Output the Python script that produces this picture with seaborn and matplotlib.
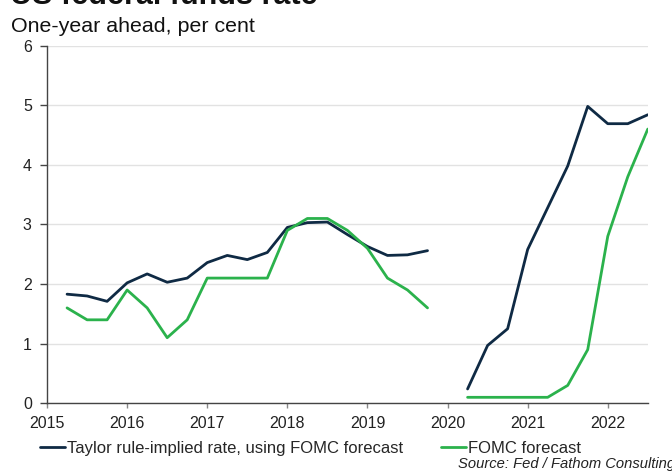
import numpy as np
import pandas as pd
import matplotlib
matplotlib.use("Agg")
import matplotlib.pyplot as plt
import seaborn as sns

# Quarterly observations, one-year-ahead rates (per cent)
dates_pre = [2015.25, 2015.5, 2015.75, 2016.0, 2016.25, 2016.5, 2016.75,
             2017.0, 2017.25, 2017.5, 2017.75, 2018.0, 2018.25, 2018.5,
             2018.75, 2019.0, 2019.25, 2019.5, 2019.75]
dates_post = [2020.25, 2020.5, 2020.75, 2021.0, 2021.25, 2021.5, 2021.75,
              2022.0, 2022.25, 2022.5]

taylor_pre = [1.83, 1.80, 1.71, 2.02, 2.17, 2.03, 2.10, 2.36, 2.48, 2.41,
              2.53, 2.95, 3.03, 3.04, 2.83, 2.63, 2.48, 2.49, 2.56]
taylor_post = [0.24, 0.97, 1.25, 2.58, 3.28, 3.98, 4.98, 4.69, 4.69, 4.84]

fomc_pre = [1.6, 1.4, 1.4, 1.9, 1.6, 1.1, 1.4, 2.1, 2.1, 2.1, 2.1, 2.9,
            3.1, 3.1, 2.9, 2.6, 2.1, 1.9, 1.6]
fomc_post = [0.1, 0.1, 0.1, 0.1, 0.1, 0.3, 0.9, 2.8, 3.8, 4.6]

series_names = ["Taylor rule-implied rate, using FOMC forecast", "FOMC forecast"]
year_ticks = [2015, 2016, 2017, 2018, 2019, 2020, 2021, 2022]
y_ticks = [0, 1, 2, 3, 4, 5, 6]

frames = []
for name, pre, post in [(series_names[0], taylor_pre, taylor_post),
                        (series_names[1], fomc_pre, fomc_post)]:
    frames.append(pd.DataFrame({"date": dates_pre, "rate": pre,
                                "series": name, "period": "pre"}))
    frames.append(pd.DataFrame({"date": dates_post, "rate": post,
                                "series": name, "period": "post"}))
df = pd.concat(frames, ignore_index=True)

sns.set_theme(style="white")
plt.rcParams["font.family"] = ["Liberation Sans", "DejaVu Sans"]

fig = plt.figure(figsize=(6.72, 4.75), dpi=100)
ax = fig.add_axes([0.070, 0.151, 0.894, 0.753])

palette = {series_names[0]: "#0f2a44", series_names[1]: "#2bb24c"}
sns.lineplot(data=df, x="date", y="rate", hue="series", units="period",
             estimator=None, palette=palette, linewidth=2.0, ax=ax,
             hue_order=series_names)

ax.set_xlim(2015, 2022.5)
ax.set_ylim(0, 6)
ax.set_xticks(year_ticks)
ax.set_xticklabels([str(y) for y in year_ticks])
ax.set_yticks(y_ticks)
ax.set_xlabel("")
ax.set_ylabel("")

ax.yaxis.grid(True, color="#e2e2e2", linewidth=1.0)
ax.set_axisbelow(True)
for side in ["top", "right"]:
    ax.spines[side].set_visible(False)
for side in ["left", "bottom"]:
    ax.spines[side].set_color("#444444")
    ax.spines[side].set_linewidth(1.0)

ax.tick_params(axis="y", direction="out", length=5, width=1, color="#444444",
               labelsize=11.5, labelcolor="#222222", pad=6, left=True)
ax.tick_params(axis="x", direction="out", length=3.5, width=1, color="#888888",
               labelsize=11.5, labelcolor="#222222", pad=6, bottom=True)

sns.move_legend(ax, loc="center left", bbox_to_anchor=(0.0595, 0.0568),
                bbox_transform=fig.transFigure, borderpad=0, borderaxespad=0,
                ncol=2, frameon=False, title=None, fontsize=12,
                handlelength=1.5, handletextpad=0.12, columnspacing=2.3)

fig.text(0.015, 0.991, "US federal funds rate", fontsize=22, fontweight="bold",
         ha="left", va="baseline", color="#111111")
fig.text(0.016, 0.933, "One-year ahead, per cent", fontsize=15.4,
         ha="left", va="baseline", color="#111111")
fig.text(1.004, 0.023, "Source: Fed / Fathom Consulting", fontsize=10.6,
         style="italic", ha="right", va="center", color="#222222")

fig.savefig("out.png", dpi=100)
